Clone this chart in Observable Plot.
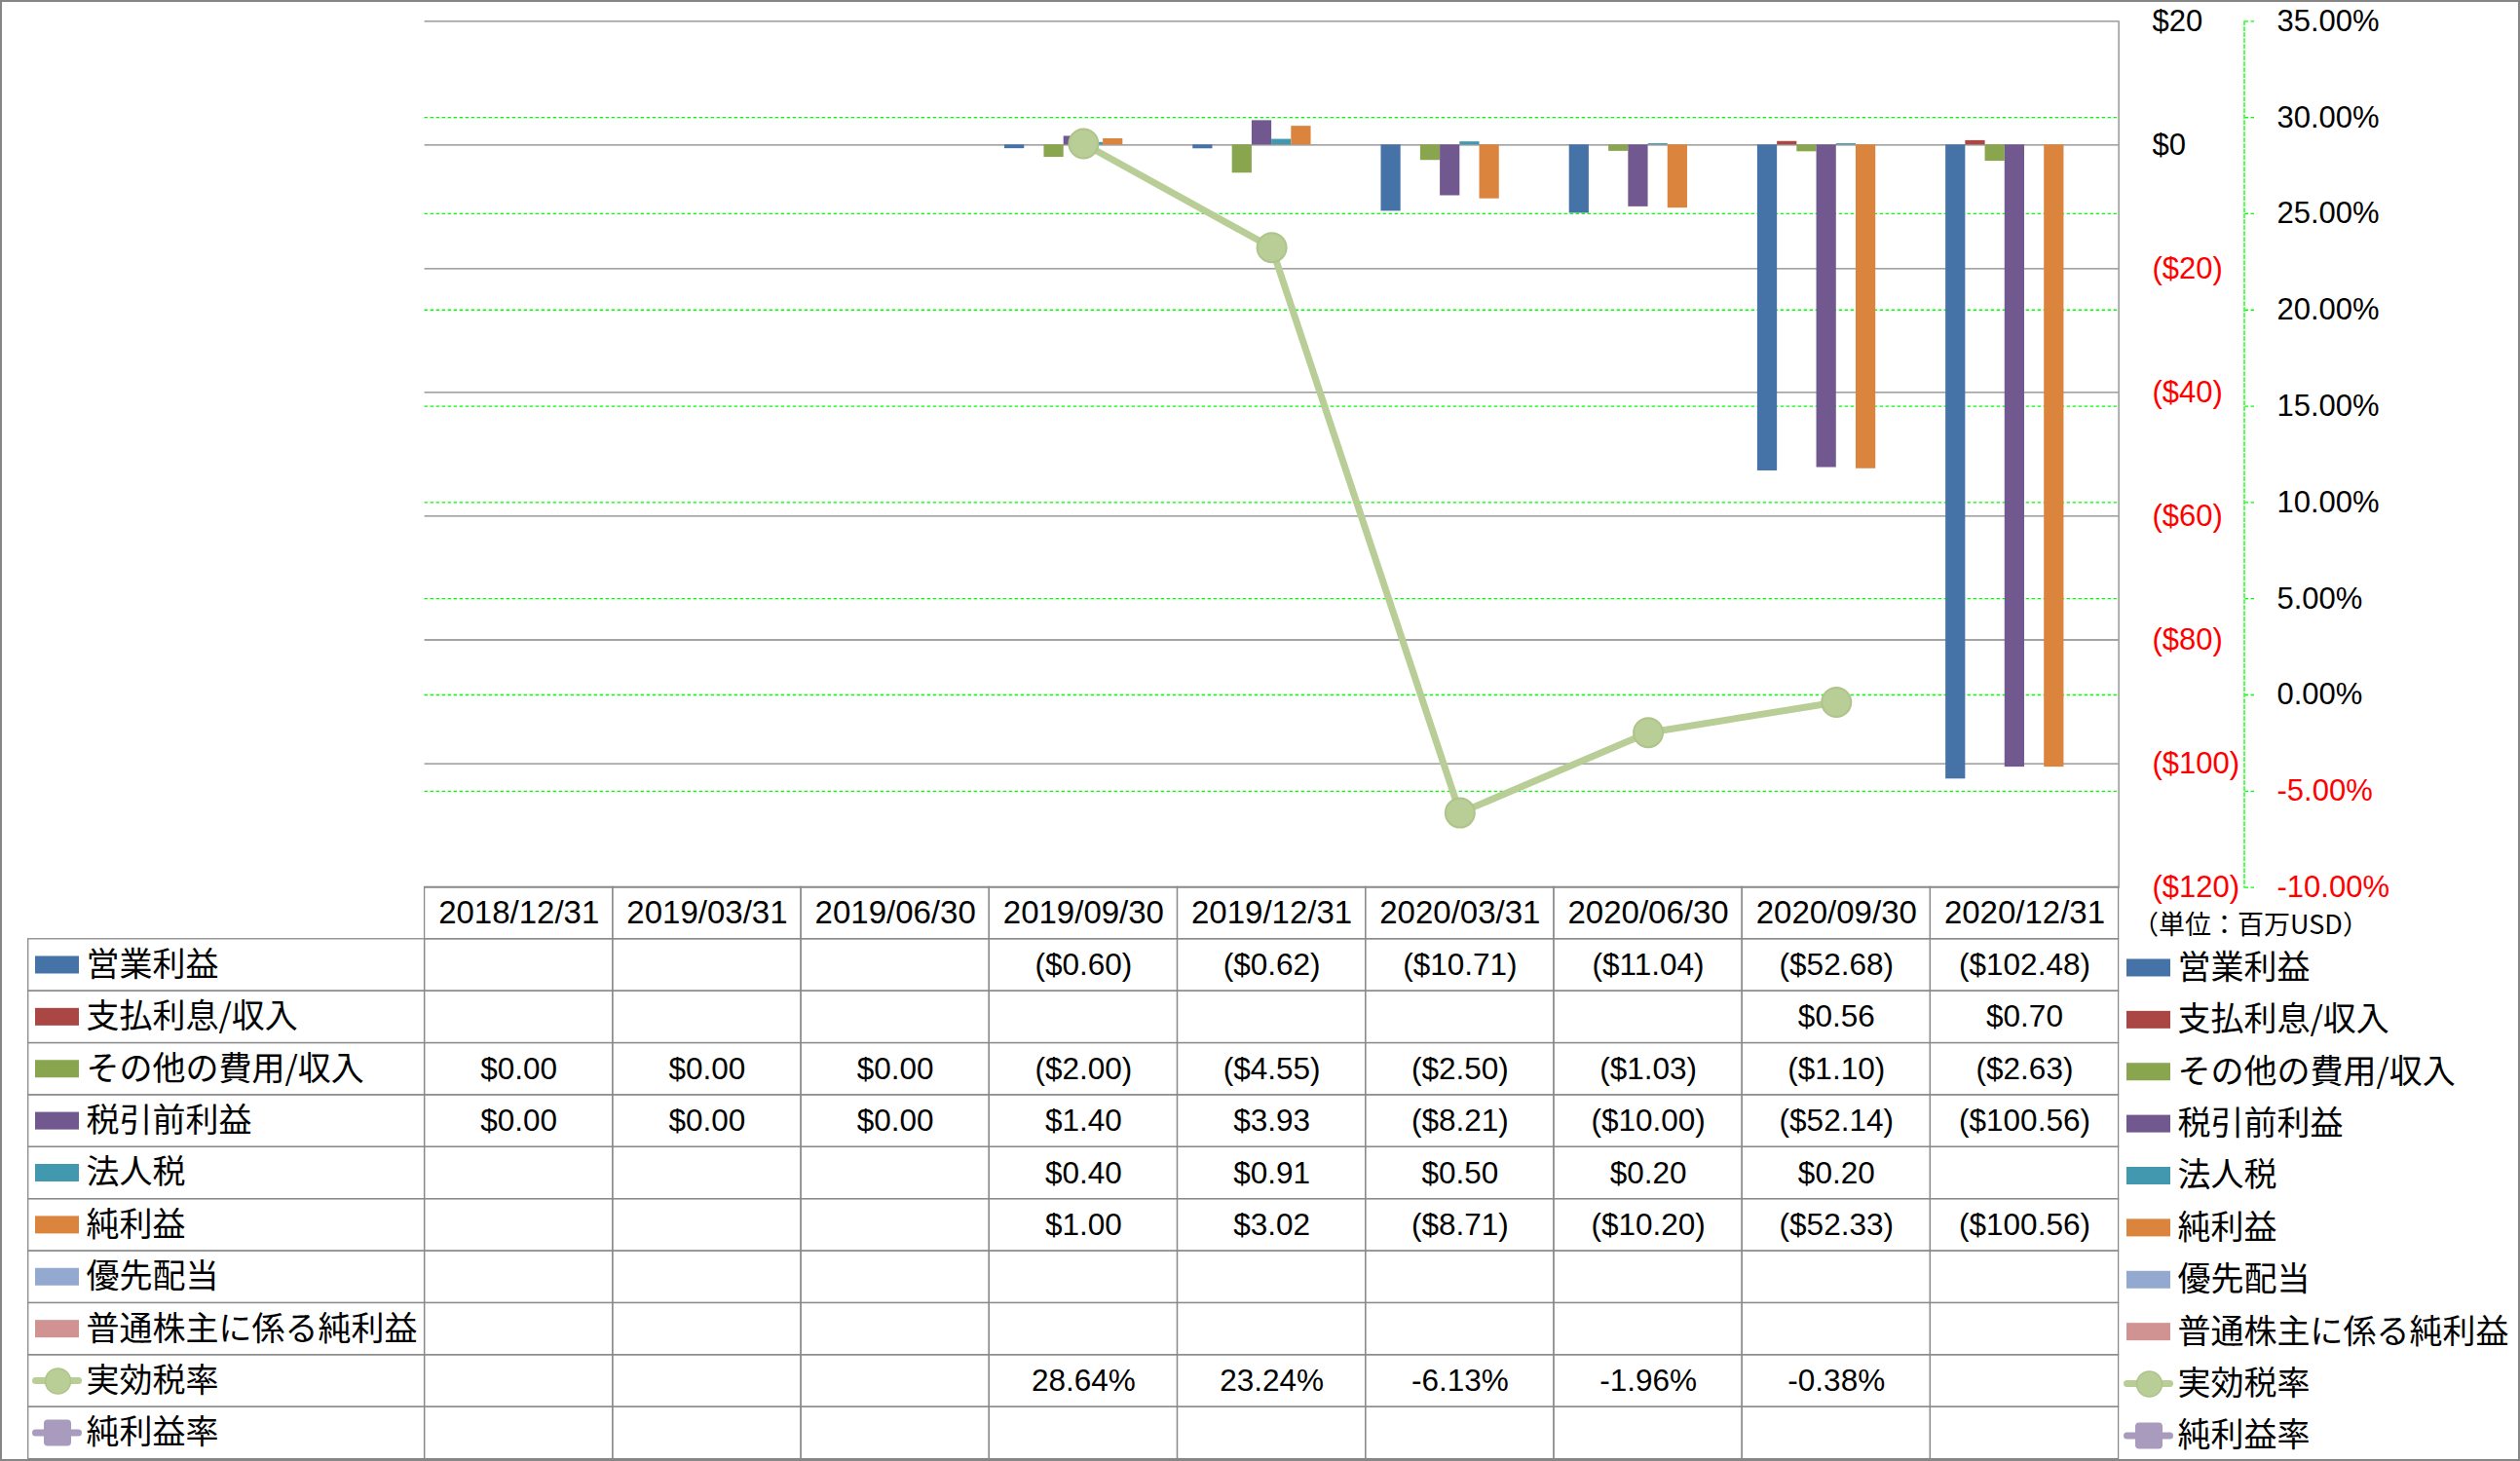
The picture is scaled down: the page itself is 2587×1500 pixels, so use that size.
<!DOCTYPE html>
<html lang="ja">
<head>
<meta charset="utf-8">
<title>損益推移</title>
<script src="https://cdn.jsdelivr.net/npm/d3@7"></script>
<script src="https://cdn.jsdelivr.net/npm/@observablehq/plot@0.6"></script>
<style>
  html, body { margin: 0; padding: 0; background: #ffffff; }
  #chart { position: relative; width: 2587px; height: 1500px; overflow: hidden; background: #ffffff; }
  #frame { position: absolute; left: 0; top: 0; width: 2587px; height: 1500px; box-sizing: border-box; border: 2px solid #868686; pointer-events: none; }
</style>
</head>
<body>
<div id="chart"></div>
<script>
// ---------------- data ----------------
const dates = ["2018/12/31","2019/03/31","2019/06/30","2019/09/30","2019/12/31","2020/03/31","2020/06/30","2020/09/30","2020/12/31"];
const barSeries = ["営業利益","支払利息/収入","その他の費用/収入","税引前利益","法人税","純利益","優先配当","普通株主に係る純利益"];
const lineSeries = ["実効税率","純利益率"];
const operatingIncome   = [null, null, null, -0.60, -0.62, -10.71, -11.04, -52.68, -102.48];
const interestIncome    = [null, null, null, null, null, null, null, 0.56, 0.70];
const otherIncome       = [0.00, 0.00, 0.00, -2.00, -4.55, -2.50, -1.03, -1.10, -2.63];
const pretaxIncome      = [0.00, 0.00, 0.00, 1.40, 3.93, -8.21, -10.00, -52.14, -100.56];
const incomeTax         = [null, null, null, 0.40, 0.91, 0.50, 0.20, 0.20, null];
const netIncome         = [null, null, null, 1.00, 3.02, -8.71, -10.20, -52.33, -100.56];
const preferredDividend = [null, null, null, null, null, null, null, null, null];
const netIncomeCommon   = [null, null, null, null, null, null, null, null, null];
const effectiveTaxRate  = [null, null, null, 28.64, 23.24, -6.13, -1.96, -0.38, null];
const netMargin         = [null, null, null, null, null, null, null, null, null];
const dollarTicks  = [20, 0, -20, -40, -60, -80, -100, -120];
const percentTicks = [35, 30, 25, 20, 15, 10, 5, 0, -5, -10];
const unitLabel = "（単位：百万USD）";
const headerKey = "日付";

// ---------------- styles / layout ----------------
const seriesColors = ["#4572A7","#AA4643","#89A54E","#71588F","#4198AF","#DB843D","#93A9CF","#D19392","#B9CD96","#A99BBD"];
const gridGray = "#868686", tableGray = "#8a8a8a", green = "#00ff00", red = "#ff0000";
const fontLatin = "'Liberation Sans', 'Noto Sans CJK JP', sans-serif";
const fontCJK = "'Noto Sans CJK JP', sans-serif";
const W = 2587, H = 1500;
const plotL = 435.6, plotR = 2174.6, plotT = 21.3, plotB = 910.6;
const tableT = 910.4, tableB = 1497.6, legendL = 28.7;
const axis2X = 2303.5;
const svgStyle = "position:absolute;left:0;top:0;background:transparent;max-width:none;overflow:visible;font-family:" + fontLatin + ";";

// ---------------- derived tables ----------------
const barValues = [operatingIncome, interestIncome, otherIncome, pretaxIncome, incomeTax, netIncome, preferredDividend, netIncomeCommon];
const lineValues = [effectiveTaxRate, netMargin];
const allSeries = [...barSeries, ...lineSeries];
const colorScale = {domain: allSeries, range: seriesColors};
const barData = barSeries.flatMap((s, j) => barValues[j].map((v, i) => ({date: dates[i], series: s, value: v})))
  .filter(d => d.value != null);
const rateData = dates.map((d, i) => ({date: d, value: effectiveTaxRate[i]})).filter(d => d.value != null);
const fmtMoney = v => v < 0 ? `($${(-v).toFixed(2)})` : `$${v.toFixed(2)}`;
const fmtMoneyTick = v => v < 0 ? `($${-v})` : `$${v}`;
const fmtPct = v => `${v.toFixed(2)}%`;
const rowKeys = [headerKey, ...allSeries];
const gridCells = rowKeys.flatMap(r => dates.map(d => ({date: d, row: r})));
const valueCells = [
  ...barSeries.flatMap((s, j) => barValues[j].map((v, i) => ({date: dates[i], row: s, label: v == null ? null : fmtMoney(v)}))),
  ...lineSeries.flatMap((s, j) => lineValues[j].map((v, i) => ({date: dates[i], row: s, label: v == null ? null : fmtPct(v)})))
].filter(d => d.label != null);

const chart = document.getElementById("chart");
const add = (p) => chart.appendChild(p);
const base = {width: W, height: H, style: svgStyle};
const mainMargins = {marginLeft: plotL, marginRight: W - plotR, marginTop: plotT, marginBottom: H - plotB};

// 1. primary ($) gridlines, right border and labels
add(Plot.plot({
  ...base, ...mainMargins,
  y: {domain: [-120, 20], axis: null},
  marks: [
    Plot.ruleY(dollarTicks, {stroke: gridGray, strokeWidth: 1.3}),
    Plot.frame({anchor: "right", stroke: gridGray, strokeWidth: 1.3}),
    Plot.axisY(dollarTicks.filter(v => v >= 0), {anchor: "right", tickSize: 0, tickPadding: 34.4, tickFormat: fmtMoneyTick, fill: "#000", fontSize: 31, fontFamily: fontLatin, label: null}),
    Plot.axisY(dollarTicks.filter(v => v < 0), {anchor: "right", tickSize: 0, tickPadding: 34.4, tickFormat: fmtMoneyTick, fill: red, fontSize: 31, fontFamily: fontLatin, label: null})
  ]
}));

// 2. secondary (%) dotted gridlines
add(Plot.plot({
  ...base, ...mainMargins,
  y: {domain: [-10, 35], axis: null},
  marks: [
    Plot.ruleY(percentTicks.filter(v => v > -10 && v < 35), {stroke: green, strokeWidth: 1.3, strokeDasharray: "3.5,2.5"})
  ]
}));

// 3. clustered bars
add(Plot.plot({
  ...base, ...mainMargins,
  fx: {domain: dates, paddingInner: 0, paddingOuter: 0, round: false, axis: null, label: null},
  x: {domain: barSeries, paddingInner: 0, paddingOuter: 0.78, round: false, axis: null},
  y: {domain: [-120, 20], axis: null},
  color: colorScale,
  marks: [
    Plot.barY(barData, {fx: "date", x: "series", y: "value", fill: "series"})
  ]
}));

// 4. effective tax rate line
add(Plot.plot({
  ...base, ...mainMargins,
  x: {type: "point", domain: dates, padding: 0.5, round: false, axis: null},
  y: {domain: [-10, 35], axis: null},
  marks: [
    Plot.line(rateData, {x: "date", y: "value", stroke: seriesColors[8], strokeWidth: 7}),
    Plot.dot(rateData, {x: "date", y: "value", r: 15, fill: seriesColors[8], stroke: "#AEC48B", strokeWidth: 2})
  ]
}));

// 5. secondary axis (dashed line, ticks, labels)
add(Plot.plot({
  ...base,
  marginLeft: axis2X - 10, marginRight: W - axis2X, marginTop: plotT, marginBottom: H - plotB,
  y: {domain: [-10, 35], axis: null},
  marks: [
    Plot.frame({anchor: "right", stroke: green, strokeWidth: 1.3, strokeDasharray: "3.5,2.5"}),
    Plot.axisY(percentTicks.filter(v => v >= 0), {anchor: "right", tickSize: 11, tickPadding: 22.5, stroke: green, strokeWidth: 1.3, strokeDasharray: "3.5,2.5", tickFormat: fmtPct, fill: "#000", fontSize: 31, fontFamily: fontLatin, label: null}),
    Plot.axisY(percentTicks.filter(v => v < 0), {anchor: "right", tickSize: 11, tickPadding: 22.5, stroke: green, strokeWidth: 1.3, strokeDasharray: "3.5,2.5", tickFormat: fmtPct, fill: red, fontSize: 31, fontFamily: fontLatin, label: null})
  ]
}));

// 6. data table grid and values
add(Plot.plot({
  ...base,
  marginLeft: plotL, marginRight: W - plotR, marginTop: tableT, marginBottom: H - tableB,
  x: {domain: dates, paddingInner: 0, paddingOuter: 0, round: false, axis: null},
  y: {domain: rowKeys, paddingInner: 0, paddingOuter: 0, round: false, axis: null},
  marks: [
    Plot.cell(gridCells, {x: "date", y: "row", fill: "none", stroke: tableGray, strokeWidth: 1.3}),
    Plot.text(dates, {x: d => d, y: () => headerKey, text: d => d, fontSize: 33, fontFamily: fontLatin, fill: "#000"}),
    Plot.text(valueCells, {x: "date", y: "row", text: "label", fontSize: 31.5, fontFamily: fontLatin, fill: "#000"})
  ]
}));

// 7/8. legends (in table and at the right)
function legendPlot(left, right, yRange, o, withGrid) {
  const fw = right - left;
  const rowH = (yRange[1] - yRange[0]) / rowKeys.length;
  const marks = [];
  if (withGrid) marks.push(Plot.cell(allSeries, {y: d => d, fill: "none", stroke: tableGray, strokeWidth: 1.3}));
  marks.push(
    Plot.cell(barSeries, {y: d => d, fill: d => d, insetLeft: o, insetRight: fw - o - 45, insetTop: (rowH - 18) / 2, insetBottom: (rowH - 18) / 2}),
    Plot.cell(lineSeries, {y: d => d, fill: d => d, insetLeft: o - 3, insetRight: fw - o - 48, insetTop: (rowH - 7) / 2, insetBottom: (rowH - 7) / 2, rx: 3.5}),
    Plot.dot([lineSeries[0]], {y: d => d, frameAnchor: "left", dx: o + 23, r: 13, fill: d => d, stroke: "#AEC48B", strokeWidth: 1.5}),
    Plot.cell([lineSeries[1]], {y: d => d, fill: d => d, insetLeft: o + 9, insetRight: fw - o - 37, insetTop: (rowH - 27) / 2, insetBottom: (rowH - 27) / 2, rx: 4}),
    Plot.text(allSeries, {y: d => d, text: d => d, frameAnchor: "left", dx: o + 52, textAnchor: "start", fontSize: 34, fontFamily: fontCJK, fill: "#000"})
  );
  return {marks, fw};
}

const leftLegend = legendPlot(legendL, plotL, [tableT, tableB], 7.3, true);
add(Plot.plot({
  ...base,
  marginLeft: legendL, marginRight: W - plotL, marginTop: tableT, marginBottom: H - tableB,
  y: {domain: rowKeys, range: [tableT, tableB], paddingInner: 0, paddingOuter: 0, round: false, axis: null},
  color: colorScale,
  marks: leftLegend.marks
}));

const rightLegend = legendPlot(plotR, 2580, [tableT + 3, tableB + 3], 8.4, false);
add(Plot.plot({
  ...base,
  marginLeft: plotR, marginRight: W - 2580, marginTop: tableT, marginBottom: H - tableB,
  y: {domain: rowKeys, range: [tableT + 3, tableB + 3], paddingInner: 0, paddingOuter: 0, round: false, axis: null},
  color: colorScale,
  marks: [
    ...rightLegend.marks,
    Plot.text([unitLabel], {y: () => headerKey, text: d => d, frameAnchor: "left", dx: 14, dy: 10, textAnchor: "start", fontSize: 27, fontFamily: fontCJK, fill: "#000"})
  ]
}));

const frame = document.createElement("div");
frame.id = "frame";
chart.appendChild(frame);
</script>
</body>
</html>
